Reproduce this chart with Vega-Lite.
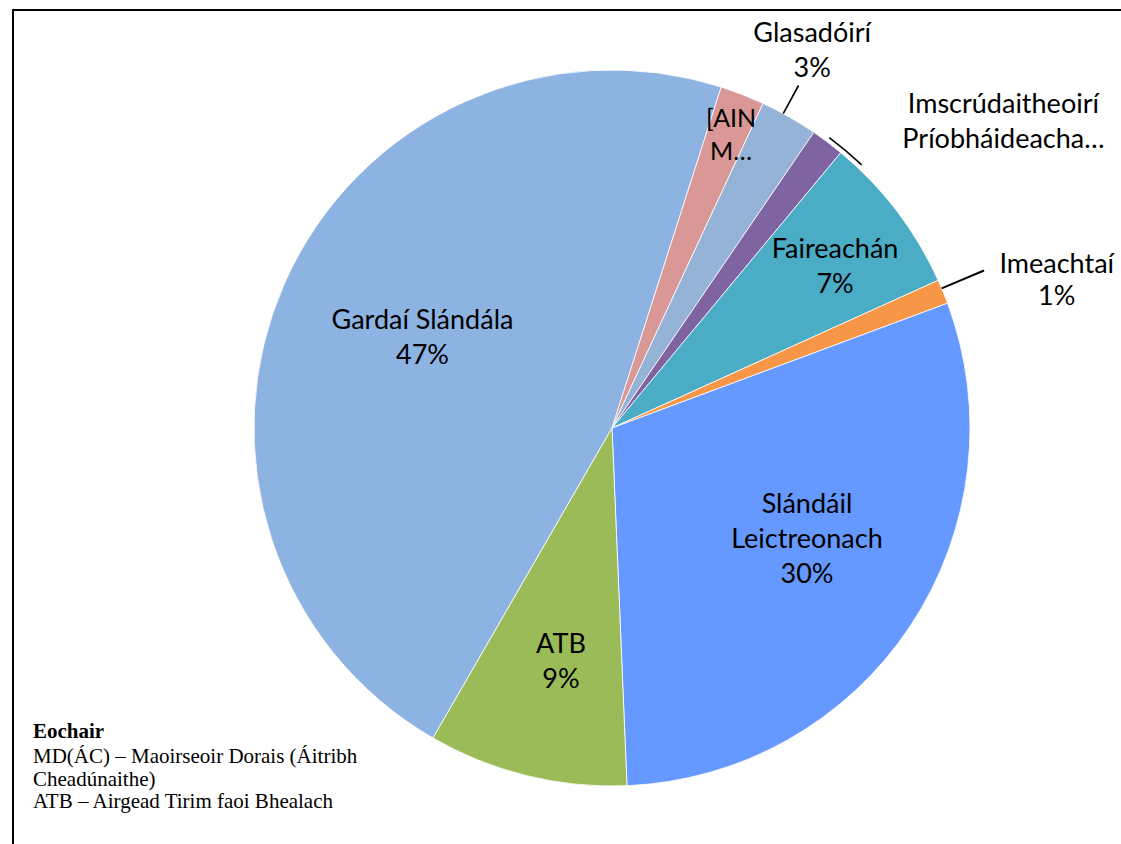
{
  "$schema": "https://vega.github.io/schema/vega-lite/v6.json",
  "width": 1110,
  "height": 836,
  "autosize": {"type": "none"},
  "padding": {"left": 13, "top": 10, "right": -2, "bottom": -2},
  "background": "white",
  "config": {"view": {"stroke": null}},
  "title": {
    "text": "Eochair",
    "subtitle": ["MD(ÁC) – Maoirseoir Dorais (Áitribh", "Cheadúnaithe)", "ATB – Airgead Tirim faoi Bhealach"],
    "orient": "top",
    "anchor": "start",
    "frame": "group",
    "font": "Liberation Serif",
    "fontSize": 21,
    "fontWeight": "bold",
    "color": "#000",
    "subtitleFont": "Liberation Serif",
    "subtitleFontSize": 21,
    "subtitleColor": "#000",
    "subtitleLineHeight": 22.5,
    "subtitlePadding": 4,
    "offset": 0,
    "dx": 20,
    "dy": 819
  },
  "data": {
    "values": [
      {"ord": 1, "cat": "Gardaí Slándála", "value": 46.6, "label": "Gardaí Slándála\n47%"},
      {"ord": 2, "cat": "[AINM CATAGÓIRE]", "value": 2.0, "label": "[AIN\nM…"},
      {"ord": 3, "cat": "Glasadóirí", "value": 2.6, "label": "Glasadóirí\n3%"},
      {"ord": 4, "cat": "Imscrúdaitheoirí Príobháideacha", "value": 1.5, "label": "Imscrúdaitheoirí\nPríobháideacha…"},
      {"ord": 5, "cat": "Faireachán", "value": 7.2, "label": "Faireachán\n7%"},
      {"ord": 6, "cat": "Imeachtaí", "value": 1.1, "label": "Imeachtaí\n1%"},
      {"ord": 7, "cat": "Slándáil Leictreonach", "value": 30.0, "label": "Slándáil\nLeictreonach\n30%"},
      {"ord": 8, "cat": "ATB", "value": 9.0, "label": "ATB\n9%"}
    ]
  },
  "layer": [
    {
      "data": {"values": [{"frame": 1}]},
      "mark": {"type": "rect", "filled": false, "stroke": "#000", "strokeWidth": 2},
      "encoding": {}
    },
    {
      "encoding": {
        "theta": {"field": "value", "type": "quantitative", "stack": true, "scale": {"domain": [0, 100], "range": [3.665191, 9.948377]}},
        "order": {"field": "ord", "type": "quantitative"}
      },
      "layer": [
        {
          "mark": {"type": "arc", "outerRadius": 358, "xOffset": 44, "stroke": "#ffffff", "strokeWidth": 0.8},
          "encoding": {
            "color": {
              "field": "cat", "type": "nominal", "legend": null,
              "scale": {
                "domain": ["Gardaí Slándála", "[AINM CATAGÓIRE]", "Glasadóirí", "Imscrúdaitheoirí Príobháideacha", "Faireachán", "Imeachtaí", "Slándáil Leictreonach", "ATB"],
                "range": ["#8DB3E2", "#D99795", "#95B3D7", "#8064A2", "#4BACC6", "#F79646", "#6699FF", "#9BBB59"]
              }
            }
          }
        },
        {
          "transform": [{"stack": "value", "sort": [{"field": "ord"}], "groupby": [], "as": ["v0", "v1"]}, {"filter": "datum.cat === 'Glasadóirí'"}],
          "mark": {"type": "arc", "innerRadius": 358, "outerRadius": 390, "xOffset": 44, "thetaOffset": 0.0609, "theta2Offset": -0.0981, "fill": "#000"},
          "encoding": {"theta": {"field": "v0", "type": "quantitative", "stack": null}, "theta2": {"field": "v1"}}
        },
        {
          "transform": [{"stack": "value", "sort": [{"field": "ord"}], "groupby": [], "as": ["v0", "v1"]}, {"filter": "datum.cat === 'Imeachtaí'"}],
          "mark": {"type": "arc", "innerRadius": 358, "outerRadius": 404, "xOffset": 44, "thetaOffset": 0.022, "theta2Offset": -0.042, "fill": "#000"},
          "encoding": {"theta": {"field": "v0", "type": "quantitative", "stack": null}, "theta2": {"field": "v1"}}
        },
        {
          "transform": [{"stack": "value", "sort": [{"field": "ord"}], "groupby": [], "as": ["v0", "v1"]}, {"filter": "datum.cat === 'Imscrúdaitheoirí Príobháideacha'"}],
          "mark": {"type": "arc", "innerRadius": 362, "outerRadius": 363.5, "xOffset": 44, "thetaOffset": 0.0433, "theta2Offset": 0.066, "fill": "#000"},
          "encoding": {"theta": {"field": "v0", "type": "quantitative", "stack": null}, "theta2": {"field": "v1"}}
        },
        {
          "mark": {"type": "text", "radius": 210, "font": "Lato", "fontSize": 27, "lineBreak": "\n", "lineHeight": 35, "baseline": "alphabetic", "align": "center", "dx": 46.5, "dy": -14, "color": "#000"},
          "encoding": {"text": {"condition": {"test": "datum.cat === 'Gardaí Slándála'", "field": "label"}, "value": ""}}
        },
        {
          "mark": {"type": "text", "radius": 239, "font": "Lato", "fontSize": 27, "lineBreak": "\n", "lineHeight": 35, "baseline": "alphabetic", "align": "center", "dx": 50, "dy": -7, "color": "#000"},
          "encoding": {"text": {"condition": {"test": "datum.cat === 'ATB'", "field": "label"}, "value": ""}}
        },
        {
          "mark": {"type": "text", "radius": 224, "font": "Lato", "fontSize": 27, "lineBreak": "\n", "lineHeight": 35, "baseline": "alphabetic", "align": "center", "dx": 52.4, "dy": -39, "color": "#000"},
          "encoding": {"text": {"condition": {"test": "datum.cat === 'Slándáil Leictreonach'", "field": "label"}, "value": ""}}
        },
        {
          "mark": {"type": "text", "radius": 275, "font": "Lato", "fontSize": 27, "lineBreak": "\n", "lineHeight": 35, "baseline": "alphabetic", "align": "center", "dx": 48.4, "dy": -3.3, "color": "#000"},
          "encoding": {"text": {"condition": {"test": "datum.cat === 'Faireachán'", "field": "label"}, "value": ""}}
        },
        {
          "mark": {"type": "text", "radius": 316, "font": "Lato", "fontSize": 25, "lineBreak": "\n", "lineHeight": 33, "baseline": "alphabetic", "align": "center", "dx": 48, "dy": -7, "color": "#000"},
          "encoding": {"text": {"condition": {"test": "datum.cat === '[AINM CATAGÓIRE]'", "field": "label"}, "value": ""}}
        },
        {
          "mark": {"type": "text", "radius": 427, "font": "Lato", "fontSize": 27, "lineBreak": "\n", "lineHeight": 35, "baseline": "alphabetic", "align": "center", "dx": 33, "dy": -15, "color": "#000"},
          "encoding": {"text": {"condition": {"test": "datum.cat === 'Glasadóirí'", "field": "label"}, "value": ""}}
        },
        {
          "mark": {"type": "text", "radius": 480, "font": "Lato", "fontSize": 27, "lineBreak": "\n", "lineHeight": 35, "baseline": "alphabetic", "align": "center", "dx": 146.4, "dy": 68, "color": "#000"},
          "encoding": {"text": {"condition": {"test": "datum.cat === 'Imscrúdaitheoirí Príobháideacha'", "field": "label"}, "value": ""}}
        },
        {
          "mark": {"type": "text", "radius": 468, "font": "Lato", "fontSize": 27, "lineBreak": "\n", "lineHeight": 32, "baseline": "alphabetic", "align": "center", "dx": 56, "dy": 23, "color": "#000"},
          "encoding": {"text": {"condition": {"test": "datum.cat === 'Imeachtaí'", "field": "label"}, "value": ""}}
        }
      ]
    }
  ]
}
